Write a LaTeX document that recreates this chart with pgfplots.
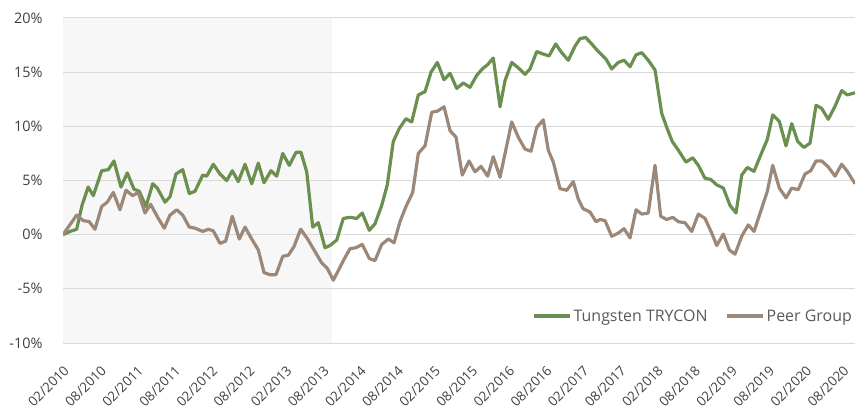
\documentclass[border=0pt]{standalone}
\usepackage{pgfplots}
\pgfplotsset{compat=1.18}
\usepackage{fontspec}
\setmainfont{Open Sans}
\definecolor{tgreen}{HTML}{6A8F4F}
\definecolor{tbrown}{HTML}{9C8878}
\definecolor{gridc}{HTML}{D9D9D9}
\definecolor{shade}{HTML}{F7F7F7}
\definecolor{labc}{HTML}{404040}
\definecolor{legc}{HTML}{595959}
\begin{document}
\begin{tikzpicture}
\begin{axis}[
  set layers,
  scale only axis,
  width=792bp, height=325bp,
  xmin=0, xmax=128, ymin=-10, ymax=20,
  axis line style={draw=none},
  tick style={draw=none},
  ymajorgrids,
  major grid style={draw=gridc, line width=1bp},
  ytick={-10,-5,0,5,10,15,20},
  yticklabels={-10\%,-5\%,0\%,5\%,10\%,15\%,20\%},
  xtick={0,6,...,126},
  xticklabels={02/2010,08/2010,02/2011,08/2011,02/2012,08/2012,02/2013,08/2013,02/2014,08/2014,02/2015,08/2015,02/2016,08/2016,02/2017,08/2017,02/2018,08/2018,02/2019,08/2019,02/2020,08/2020},
  ticklabel style={text=labc},
  xticklabel style={font=\fontsize{13.5}{16}\selectfont, xshift=0bp, yshift=-20bp, rotate=45, anchor=north east, inner sep=1bp},
  yticklabel style={font=\fontsize{14.5}{17}\selectfont, xshift=-17bp},
  legend style={at={(1,0.083)}, anchor=east, draw=none, fill=none,
    font=\fontsize{16}{19}\selectfont, text=legc, inner sep=1bp,
    /tikz/every even column/.append style={column sep=16bp}},
  legend columns=2,
  legend cell align=left,
  legend image code/.code={\draw[#1, line width=3.2bp] (0bp,0bp) -- (36bp,0bp);},
]
\addplot[fill=shade, draw=none, on layer=axis background, forget plot]
  coordinates {(0,-10) (43.4,-10) (43.4,20) (0,20)} -- cycle;
\addplot[tgreen, line width=3.2bp, line join=round] coordinates {
(0,0) (1.13,0.3) (2.21,0.5) (3.07,2.7) (4.07,4.4) (4.90,3.6) (6.25,5.9) (7.32,6.0) (8.24,6.8) (9.37,4.4) (10.39,5.7) (11.47,4.2) (12.33,4.0) (13.41,2.6) (14.50,4.7) (15.24,4.3) (16.49,3.0) (17.29,3.5) (18.26,5.6) (19.35,6.0) (20.41,3.8) (21.33,4.0) (22.58,5.5) (23.22,5.4) (24.29,6.5) (25.37,5.6) (26.46,5.0) (27.36,5.9) (28.33,4.9) (29.42,6.5) (30.50,4.7) (31.56,6.6) (32.49,4.8) (33.62,5.9) (34.54,5.4) (35.51,7.5) (36.57,6.4) (37.66,7.6) (38.46,7.6) (39.39,5.8) (40.36,0.7) (41.26,1.1) (42.34,-1.2) (43.15,-1.0) (44.24,-0.5) (45.30,1.5) (46.38,1.6) (47.47,1.5) (48.37,2.0) (49.50,0.4) (50.42,1.0) (51.51,2.7) (52.41,4.6) (53.38,8.6) (54.35,9.8) (55.43,10.7) (56.36,10.4) (57.42,12.9) (58.51,13.2) (59.48,15.0) (60.50,15.9) (61.58,14.3) (62.55,14.9) (63.63,13.5) (64.70,14.0) (65.78,13.6) (66.86,14.7) (67.77,15.3) (68.64,15.7) (69.54,16.3) (70.63,11.8) (71.43,14.2) (72.52,15.9) (73.58,15.4) (74.67,14.8) (75.48,15.3) (76.56,16.9) (77.46,16.7) (78.55,16.5) (79.63,17.6) (80.60,16.8) (81.66,16.1) (82.75,17.4) (83.56,18.1) (84.48,18.2) (85.45,17.6) (86.52,16.9) (87.76,16.2) (88.68,15.3) (89.75,15.9) (90.67,16.1) (91.64,15.5) (92.61,16.6) (93.53,16.8) (94.59,16.1) (95.68,15.2) (96.76,11.2) (97.57,9.9) (98.47,8.6) (99.44,7.8) (100.69,6.7) (101.77,7.1) (102.68,6.4) (103.76,5.2) (104.68,5.1) (105.65,4.6) (106.72,4.3) (107.80,2.7) (108.77,2.0) (109.69,5.5) (110.59,6.2) (111.68,5.85) (112.76,7.35) (113.83,8.8) (114.70,11.05) (115.77,10.45) (116.85,8.2) (117.77,10.25) (118.74,8.6) (119.76,8.05) (120.73,8.45) (121.70,11.95) (122.62,11.65) (123.68,10.65) (124.77,11.85) (125.85,13.3) (126.75,12.9) (128,13.1)
};
\addlegendentry{Tungsten TRYCON}
\addplot[tbrown, line width=3.2bp, line join=round] coordinates {
(0,0) (2.21,1.8) (3.28,1.3) (4.25,1.2) (5.17,0.5) (6.25,2.6) (7.16,3.0) (8.13,3.9) (9.21,2.3) (10.18,4.1) (11.26,3.6) (12.17,3.9) (13.25,2.0) (14.17,2.8) (15.40,1.5) (16.37,0.6) (17.29,1.8) (18.38,2.3) (19.35,1.8) (20.41,0.7) (21.33,0.6) (22.58,0.3) (23.48,0.5) (24.29,0.35) (25.37,-0.8) (26.29,-0.6) (27.36,1.7) (28.49,-0.4) (29.42,0.7) (30.50,-0.4) (31.56,-1.4) (32.49,-3.5) (33.46,-3.7) (34.42,-3.7) (35.51,-2.0) (36.41,-1.9) (37.33,-1.1) (38.41,0.5) (39.48,-0.35) (40.56,-1.4) (41.80,-2.6) (42.71,-3.1) (43.68,-4.2) (44.24,-3.6) (45.30,-2.4) (46.38,-1.3) (47.35,-1.2) (48.37,-0.9) (49.50,-2.2) (50.42,-2.4) (51.51,-0.9) (52.58,-0.4) (53.50,-0.75) (54.46,1.2) (55.43,2.6) (56.52,3.9) (57.42,7.5) (58.51,8.2) (59.59,11.3) (60.50,11.4) (61.58,11.8) (62.55,9.6) (63.52,9.0) (64.53,5.5) (65.62,6.8) (66.59,5.8) (67.56,6.3) (68.64,5.4) (69.54,7.2) (70.63,5.3) (72.52,10.4) (73.58,9.0) (74.67,7.9) (75.64,7.7) (76.56,9.9) (77.62,10.6) (78.43,7.8) (79.24,6.7) (80.32,4.25) (81.41,4.1) (82.47,4.9) (83.27,3.3) (84.04,2.4) (85.17,2.1) (86.14,1.2) (86.79,1.4) (87.60,1.3) (88.68,-0.15) (89.75,0.15) (90.67,0.55) (91.64,-0.3) (92.61,2.3) (93.53,1.9) (94.59,2.0) (95.68,6.4) (96.60,1.7) (97.57,1.4) (98.54,1.6) (99.44,1.2) (100.52,1.1) (101.61,0.3) (102.68,1.9) (103.76,1.5) (104.84,0.15) (105.65,-1.0) (106.72,0.05) (107.68,-1.4) (108.61,-1.8) (109.69,-0.15) (110.75,0.9) (111.68,0.3) (112.76,2.15) (113.83,4.0) (114.70,6.4) (115.77,4.3) (116.85,3.4) (117.77,4.3) (118.83,4.15) (119.92,5.6) (120.84,5.9) (121.70,6.8) (122.62,6.8) (123.68,6.25) (124.77,5.4) (125.85,6.5) (126.75,5.85) (128,4.7)
};
\addlegendentry{Peer Group}
\end{axis}
\pgfresetboundingbox
\path ([shift={(-63bp,-71bp)}]current axis.south west) rectangle ([shift={(1bp,18bp)}]current axis.north east);
\end{tikzpicture}
\end{document}
